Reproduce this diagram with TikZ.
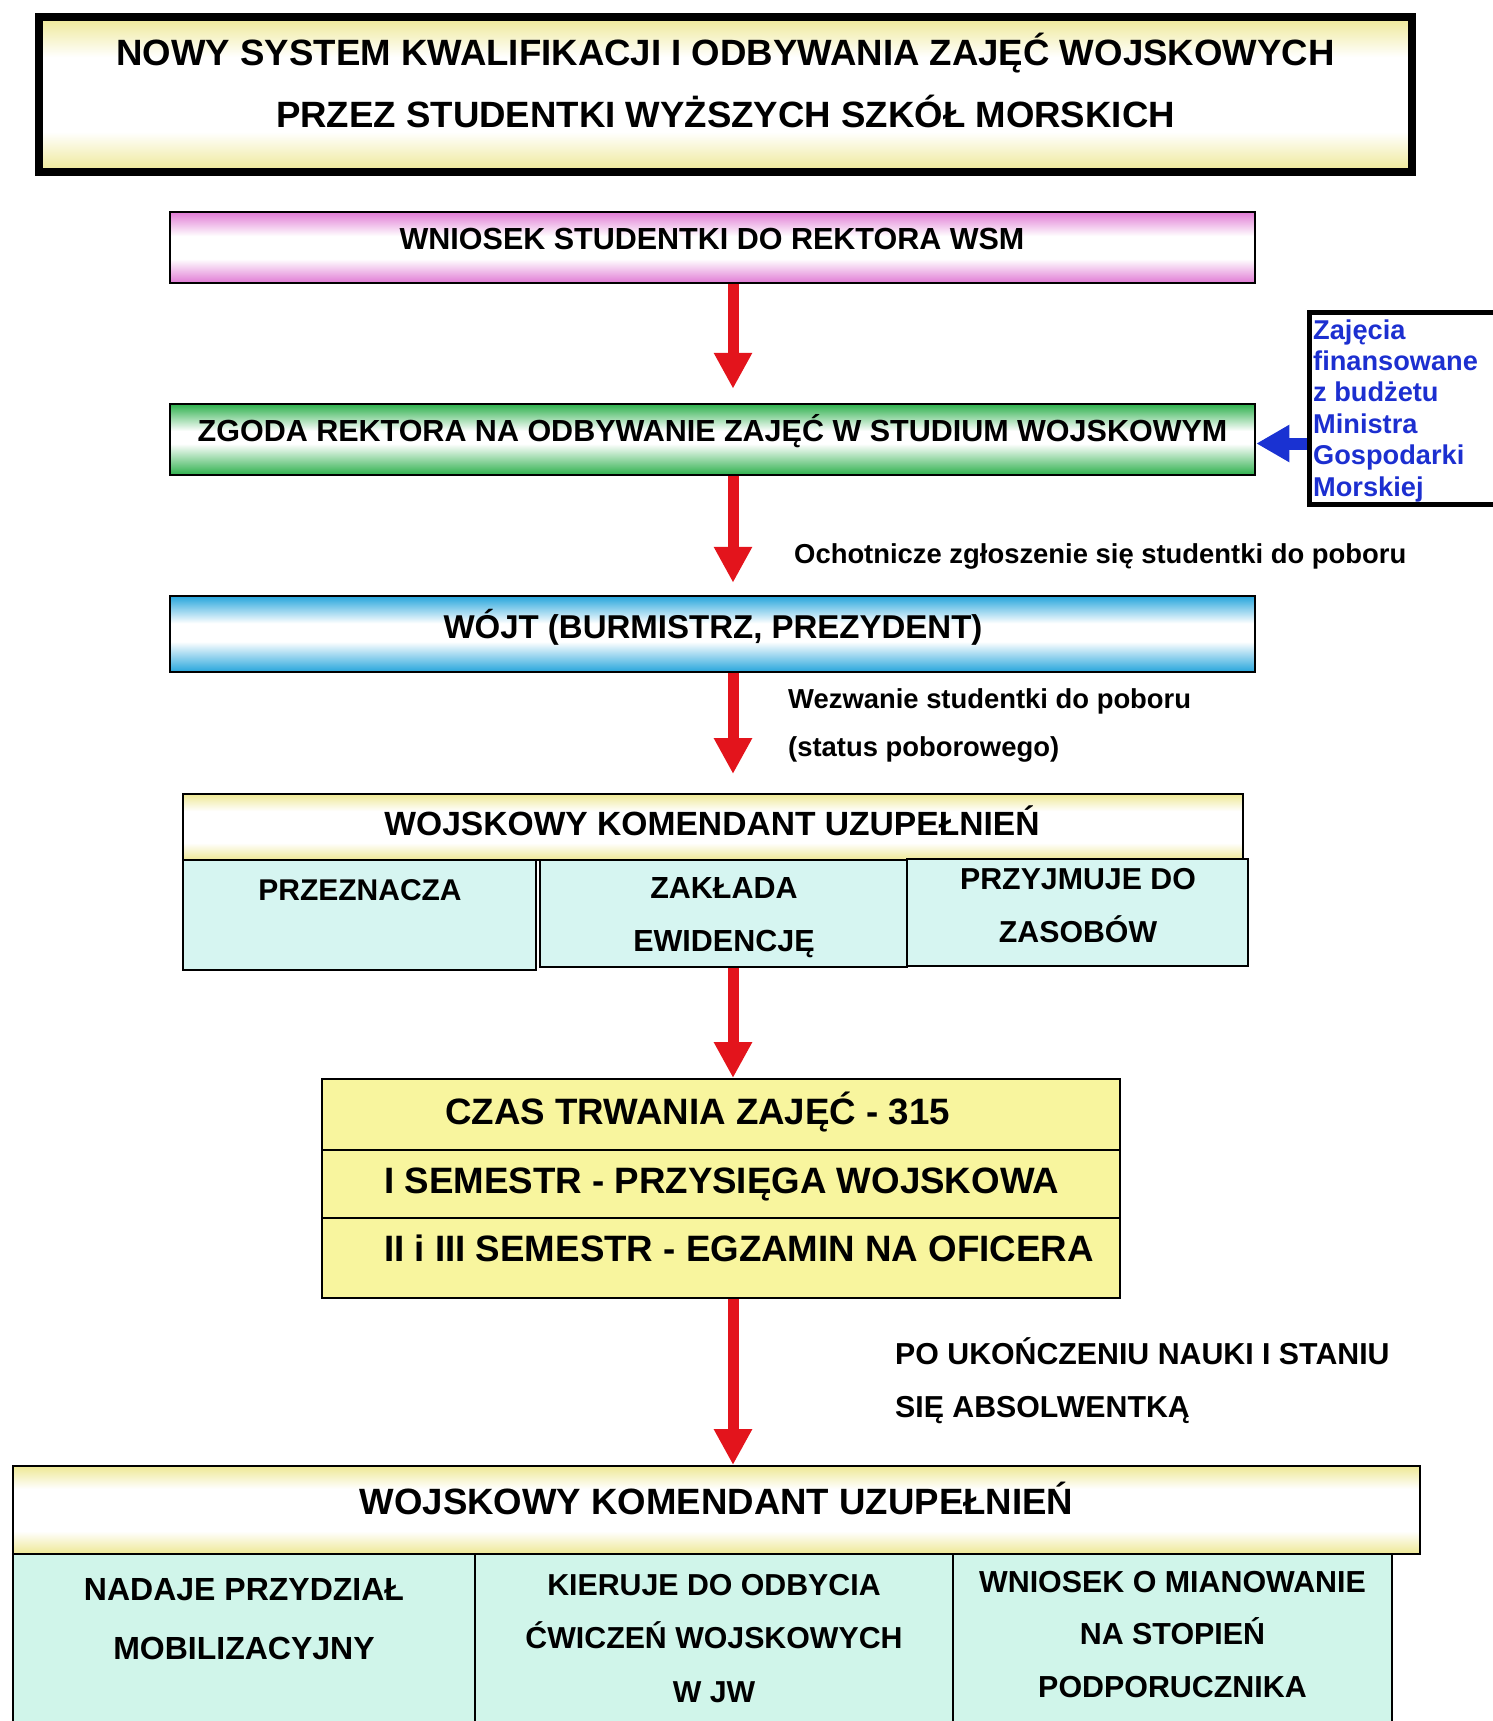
\documentclass[tikz,border=0pt]{standalone}
\usepackage{fontspec}
\setmainfont{Liberation Sans}
\usetikzlibrary{arrows.meta}

\definecolor{arrowred}{HTML}{E3141C}
\definecolor{arrowblue}{HTML}{1A32D2}
\definecolor{textblue}{HTML}{1C2FD0}
\definecolor{edgepink}{HTML}{E07AD4}
\definecolor{edgegreen}{HTML}{2DB04C}
\definecolor{edgecyan}{HTML}{25A5DC}
\definecolor{edgeyellow}{HTML}{EEE894}
\definecolor{subcyan}{HTML}{D6F5F1}
\definecolor{submint}{HTML}{D0F5EA}
\definecolor{semyellow}{HTML}{F8F59E}

\pgfdeclareverticalshading{pinkband}{100bp}{color(0bp)=(edgepink); color(25bp)=(edgepink); color(42bp)=(white); color(58bp)=(white); color(75bp)=(edgepink); color(100bp)=(edgepink)}
\pgfdeclareverticalshading{greenband}{100bp}{color(0bp)=(edgegreen); color(25bp)=(edgegreen); color(47bp)=(white); color(56bp)=(white); color(75bp)=(edgegreen); color(100bp)=(edgegreen)}
\pgfdeclareverticalshading{cyanband}{100bp}{color(0bp)=(edgecyan); color(25bp)=(edgecyan); color(45bp)=(white); color(57bp)=(white); color(75bp)=(edgecyan); color(100bp)=(edgecyan)}
\pgfdeclareverticalshading{yellowband}{100bp}{color(0bp)=(edgeyellow); color(25bp)=(edgeyellow); color(38bp)=(white); color(62bp)=(white); color(75bp)=(edgeyellow); color(100bp)=(edgeyellow)}

\begin{document}
\begin{tikzpicture}[x=1pt,y=-1pt]
        \tikzset{
          box/.style={draw,inner sep=0pt,line width=2.5pt,shade},
          cell/.style={draw,inner sep=0pt,line width=2pt},
          txt/.style 2 args={inner sep=0pt,anchor=base,align=center,font=\fontsize{#1}{#2}\selectfont\bfseries},
          ltxt/.style 2 args={inner sep=0pt,anchor=base west,align=left,font=\fontsize{#1}{#2}\selectfont\bfseries},
          redarrow/.style={draw=arrowred,line width=11pt,-{Triangle[width=36pt,length=36pt]}},
          bluearrow/.style={draw=arrowblue,line width=12pt,-{Triangle[width=35pt,length=33pt]}}
        }
        \useasboundingbox (0,0) rectangle (1492,1721);
        \coordinate (axis) at (733,0);
        % title (text nodes sit on the baseline of their last line)
        \node[box,line width=8pt,shading=yellowband,minimum width=1373pt,minimum height=155pt] (title) at (725.5,94.5) {};
        \node[txt={36.6pt}{62pt}] (titleT) at (725.5,127) {NOWY SYSTEM KWALIFIKACJI I ODBYWANIA ZAJĘĆ WOJSKOWYCH\\PRZEZ STUDENTKI WYŻSZYCH SZKÓŁ MORSKICH};
        % main column
        \node[box,shading=pinkband,minimum width=1085pt,minimum height=71pt] (wniosek) at (712.5,247.5) {};
        \node[txt={30.5pt}{36pt}] (wniosekT) at (712,249) {WNIOSEK STUDENTKI DO REKTORA WSM};
        \node[box,shading=greenband,minimum width=1085pt,minimum height=71pt] (zgoda) at (712.5,439.5) {};
        \node[txt={30.5pt}{36pt}] (zgodaT) at (712.5,441) {ZGODA REKTORA NA ODBYWANIE ZAJĘĆ W STUDIUM WOJSKOWYM};
        \node[box,shading=cyanband,minimum width=1085pt,minimum height=76pt] (wojt) at (712.5,634) {};
        \node[txt={33pt}{40pt}] (wojtT) at (713,638) {WÓJT (BURMISTRZ, PREZYDENT)};
        % financing box
        \node[draw,line width=5pt,inner sep=0pt,minimum width=189pt,minimum height=192pt] (budzet) at (1404,408.5) {};
        \node[ltxt={27.2pt}{31.4pt},text=textblue] (budzetT) at (1313,496) {Zajęcia\\finansowane\\z budżetu\\Ministra\\Gospodarki\\Morskiej};
        \coordinate (budzetIn) at ([yshift=-4pt]zgoda.east);
        \draw[bluearrow] (budzet.west |- budzetIn) -- (budzetIn);
        % WKU before studies
        \node[box,line width=2pt,shading=yellowband,minimum width=1060pt,minimum height=66pt] (wku) at (713,827) {};
        \node[txt={33.6pt}{40pt}] (wkuT) at (712,835) {WOJSKOWY KOMENDANT UZUPEŁNIEŃ};
        \node[cell,fill=subcyan,minimum width=353pt,minimum height=110pt] (przezn) at (359.5,915) {};
        \node[cell,fill=subcyan,minimum width=367pt,minimum height=107pt] (zaklada) at (723.5,913.5) {};
        \node[cell,fill=subcyan,minimum width=341pt,minimum height=107pt] (przyjm) at (1077.5,912.5) {};
        \node[txt={30pt}{53pt}] (przeznT) at (360,900) {PRZEZNACZA};
        \node[txt={30.5pt}{53pt}] (zakladaT) at (724,951) {ZAKŁADA\\EWIDENCJĘ};
        \node[txt={30.3pt}{53pt}] (przyjmT) at (1078,942) {PRZYJMUJE DO\\ZASOBÓW};
        % semesters
        \node[cell,fill=semyellow,minimum width=798pt,minimum height=71pt] (czas) at (721,1114.5) {};
        \node[cell,fill=semyellow,minimum width=798pt,minimum height=68pt] (semI) at (721,1184) {};
        \node[cell,fill=semyellow,minimum width=798pt,minimum height=80pt] (semII) at (721,1258) {};
        \node[ltxt={36.7pt}{44pt}] (czasT) at (445,1124) {CZAS TRWANIA ZAJĘĆ - 315};
        \node[ltxt={36.7pt}{44pt}] (semIT) at (384,1193) {I SEMESTR - PRZYSIĘGA WOJSKOWA};
        \node[ltxt={36.7pt}{44pt}] (semIIT) at (384,1261) {II i III SEMESTR - EGZAMIN NA OFICERA};
        % WKU after studies
        \node[box,line width=2pt,shading=yellowband,minimum width=1407pt,minimum height=88pt] (wku2) at (716.5,1510) {};
        \node[txt={36.6pt}{44pt}] (wku2T) at (716.5,1514) {WOJSKOWY KOMENDANT UZUPEŁNIEŃ};
        \node[cell,fill=submint,minimum width=462pt,minimum height=192pt] (nadaje) at (244,1650) {};
        \node[cell,fill=submint,minimum width=478pt,minimum height=192pt] (kieruje) at (714,1650) {};
        \node[cell,fill=submint,minimum width=439pt,minimum height=192pt] (mianow) at (1172.5,1650) {};
        \node[txt={32pt}{59pt}] (nadajeT) at (244,1659) {NADAJE PRZYDZIAŁ\\MOBILIZACYJNY};
        \node[txt={30.3pt}{53.5pt}] (kierujeT) at (714,1702) {KIERUJE DO ODBYCIA\\ĆWICZEŃ WOJSKOWYCH\\W JW};
        \node[txt={30.4pt}{52.5pt}] (mianowT) at (1172.5,1697) {WNIOSEK O MIANOWANIE\\NA STOPIEŃ\\PODPORUCZNIKA};
        % arrows and their labels
        \draw[redarrow,shorten >=14pt] (wniosek.south -| axis) -- (zgoda.north -| axis);
        \draw[redarrow,shorten >=12pt] (zgoda.south -| axis) -- (wojt.north -| axis);
        \node[ltxt={27.4pt}{48pt}] (ochot) at (794,563) {Ochotnicze zgłoszenie się studentki do poboru};
        \draw[redarrow,shorten >=19pt] (wojt.south -| axis) -- (wku.north -| axis);
        \node[ltxt={27.4pt}{48pt}] (wezw) at (788,756) {Wezwanie studentki do poboru\\(status poborowego)};
        \draw[redarrow] (zaklada.south -| axis) -- (czas.north -| axis);
        \draw[redarrow] (semII.south -| axis) -- (wku2.north -| axis);
        \node[ltxt={30.3pt}{53pt}] (absolw) at (895,1417) {PO UKOŃCZENIU NAUKI I STANIU\\SIĘ ABSOLWENTKĄ};
    \end{tikzpicture}
\end{document}
